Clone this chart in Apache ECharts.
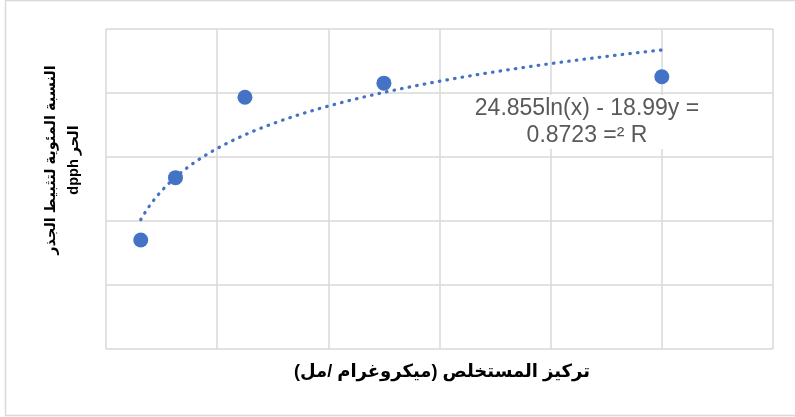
<!DOCTYPE html>
<html>
<head>
<meta charset="utf-8">
<script src="https://cdn.jsdelivr.net/npm/echarts@6/dist/echarts.min.js"></script>
<style>
  html, body { margin: 0; padding: 0; background: #ffffff; }
  #chart { width: 795px; height: 417px; }
</style>
</head>
<body>
<div id="chart"></div>
<script>
// Extract concentration (µg/ml) and DPPH radical inhibition (%)
const concentrations = [6.25, 12.5, 25, 50, 100];
const inhibition = [18.3, 43.6, 76.3, 82.0, 84.6];

// Logarithmic trendline y = a·ln(x) + b and its fit
const trendSlope = 24.855;
const trendIntercept = -18.99;
const equationLines = ['24.855ln(x) - 18.99y =', '0.8723 =² R'];

// Axis titles (Arabic, right-to-left)
const xTitle = '\u200Fتركيز المستخلص (ميكروغرام /مل)\u200F';
const yTitleLines = ['النسبة المئوية لتثبيط الجذر', '\u202Bالحر dpph\u202C'];

// Hidden-label axis ranges
const xMin = 0, xMax = 120, xStep = 20;
const yMin = -26, yMax = 104, yStep = 26;

const points = concentrations.map((c, i) => [c, inhibition[i]]);

// Sample the trendline across the measured concentration range
const trend = [];
const lo = Math.min(...concentrations), hi = Math.max(...concentrations);
const steps = 200;
for (let i = 0; i <= steps; i++) {
  const x = lo + (hi - lo) * i / steps;
  trend.push([x, trendSlope * Math.log(x) + trendIntercept]);
}

const gridColor = '#d9d9d9';
const blue = '#4472C4';

const chart = echarts.init(document.getElementById('chart'), null, { renderer: 'canvas' });
chart.setOption({
  animation: false,
  backgroundColor: '#ffffff',
  grid: { left: 106, right: 22, top: 29, bottom: 68 },
  xAxis: {
    type: 'value', min: xMin, max: xMax, interval: xStep,
    axisLine: { show: false }, axisTick: { show: false }, axisLabel: { show: false },
    splitLine: { show: true, lineStyle: { color: gridColor, width: 1.5 } }
  },
  yAxis: {
    type: 'value', min: yMin, max: yMax, interval: yStep,
    axisLine: { show: false }, axisTick: { show: false }, axisLabel: { show: false },
    splitLine: { show: true, lineStyle: { color: gridColor, width: 1.5 } }
  },
  series: [
    {
      type: 'line',
      data: trend,
      showSymbol: false,
      symbol: 'none',
      silent: true,
      lineStyle: { color: blue, width: 3.2, type: [0.6, 7.1], cap: 'round' },
      z: 2
    },
    {
      type: 'scatter',
      data: points,
      symbol: 'circle',
      symbolSize: 15,
      itemStyle: { color: blue, opacity: 1 },
      z: 3
    }
  ],
  graphic: [
    {
      type: 'rect',
      shape: { x: 5.5, y: 0.5, width: 800, height: 415 },
      style: { fill: 'none', stroke: gridColor, lineWidth: 1.5 },
      silent: true
    },
    {
      type: 'text',
      x: 442, y: 372,
      style: {
        text: xTitle,
        font: 'bold 18px "Liberation Sans", Arial, "DejaVu Sans", sans-serif',
        fill: '#000000', textAlign: 'center', textVerticalAlign: 'middle'
      }
    },
    {
      type: 'text',
      x: 62, y: 160,
      rotation: Math.PI / 2,
      style: {
        text: yTitleLines.join('\n'),
        font: 'bold 14.5px "Liberation Sans", Arial, "DejaVu Sans", sans-serif',
        lineHeight: 23,
        fill: '#000000', textAlign: 'center', textVerticalAlign: 'middle'
      }
    },
    {
      type: 'text',
      x: 587, y: 122,
      z: 10,
      style: {
        text: equationLines.join('\n'),
        font: '23px "Liberation Sans", Arial, sans-serif',
        lineHeight: 27,
        fill: '#595959', textAlign: 'center', textVerticalAlign: 'middle',
        backgroundColor: '#ffffff',
        padding: [0, 2, 0, 2]
      }
    }
  ]
});
</script>
</body>
</html>
